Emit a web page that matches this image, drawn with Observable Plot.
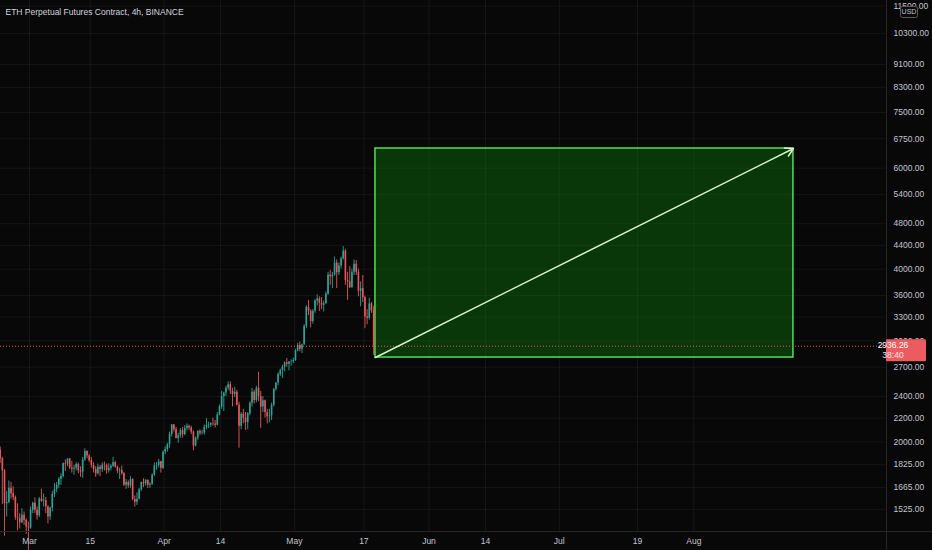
<!DOCTYPE html>
<html><head><meta charset="utf-8">
<script src="https://cdn.jsdelivr.net/npm/d3@7"></script>
<script src="https://cdn.jsdelivr.net/npm/@observablehq/plot@0.6"></script>
<style>html,body{margin:0;padding:0;background:#080808;overflow:hidden}#chart{width:932px;height:550px}</style>
</head><body><div id="chart"></div>
<script>
const title = "ETH Perpetual Futures Contract, 4h, BINANCE";
const candleStart = "2021-02-22T00:00:00Z";
const candleHours = 12;
const firstOpen = 1935;
const highs = [
1960,1880,1790,1640,1710,1700,1670,1610,1560,1500,1530,1510,1469,1450,
1540,1570,1598,1540,1600,1654,1622,1600,1547,1540,1640,1692,1700,1733,
1760,1838,1860,1868,1870,1850,1820,1840,1837,1810,1880,1945,1930,1900,
1878,1840,1810,1830,1820,1838,1845,1830,1832,1825,1880,1850,1815,1800,
1815,1770,1720,1710,1740,1725,1610,1630,1660,1702,1725,1720,1716,1700,
1760,1838,1840,1865,1850,1930,1960,1990,2080,2145,2145,2120,2070,2110,
2120,2135,2150,2140,2130,2090,2040,2093,2100,2095,2140,2196,2165,2160,
2200,2180,2250,2318,2450,2440,2500,2545,2545,2480,2490,2460,2345,2250,
2279,2250,2250,2350,2480,2460,2500,2645,2450,2400,2365,2280,2280,2337,
2480,2536,2640,2680,2720,2757,2797,2760,2780,2800,2900,2970,2985,2960,
3200,3455,3530,3400,3400,3540,3610,3580,3570,3520,3650,3950,3980,3950,
4200,4150,4100,4200,4380,4330,3950,4040,4000,4150,4140,4000,3800,3900,
3590,3400,3560,3500,3440];
const lows = [
1835,1555,1370,1480,1560,1590,1580,1460,1400,1410,1440,1430,1380,1290,
1409,1500,1500,1461,1477,1570,1540,1500,1439,1460,1510,1600,1631,1660,
1681,1730,1777,1810,1790,1765,1750,1780,1760,1735,1728,1850,1870,1840,
1800,1765,1735,1750,1740,1770,1780,1757,1765,1780,1806,1800,1760,1720,
1750,1672,1654,1660,1660,1580,1540,1550,1585,1640,1665,1675,1658,1660,
1680,1740,1785,1800,1765,1790,1900,1920,1950,2040,2080,2025,1990,2030,
2030,2050,2090,2095,2060,1930,1961,2010,2050,2055,2056,2100,2110,2120,
2130,2115,2134,2220,2280,2260,2400,2460,2420,2301,2390,2310,1950,2100,
2150,2094,2100,2220,2300,2330,2340,2350,2112,2250,2200,2150,2159,2180,
2300,2450,2505,2600,2580,2650,2700,2660,2710,2740,2764,2870,2870,2852,
2950,3150,3320,3160,3210,3350,3450,3375,3400,3370,3475,3600,3750,3700,
3890,3700,3900,4000,4150,3750,3530,3700,3700,3900,3900,3580,3440,3500,
3150,3200,3260,3350,2830];
const closes = [
1870,1781,1560,1568,1660,1625,1600,1475,1470,1446,1490,1459,1420,1416,
1520,1564,1520,1488,1590,1574,1580,1541,1480,1532,1620,1653,1680,1722,
1740,1834,1830,1868,1800,1793,1800,1826,1780,1772,1860,1924,1890,1854,
1820,1791,1760,1806,1790,1822,1820,1782,1800,1814,1840,1807,1780,1784,
1760,1681,1700,1677,1720,1587,1570,1589,1650,1700,1690,1714,1680,1688,
1750,1815,1820,1846,1800,1918,1940,1977,2060,2141,2100,2028,2050,2092,
2060,2110,2130,2115,2080,1967,2030,2086,2070,2072,2120,2134,2140,2152,
2150,2138,2230,2300,2400,2433,2480,2515,2450,2420,2440,2316,2130,2235,
2200,2161,2240,2335,2440,2361,2480,2398,2300,2360,2250,2213,2220,2317,
2470,2534,2620,2663,2700,2746,2730,2757,2760,2773,2880,2945,2900,2950,
3180,3431,3380,3241,3380,3522,3550,3490,3460,3483,3620,3905,3880,3903,
4100,3943,4050,4170,4300,3820,3800,3715,3950,4080,3950,3660,3700,3570,
3300,3285,3480,3385,2936];
const lastPrice = 2936.26;
const countdown = "38:40";
const currency = "USD";
const yTicks = [11500,10300,9100,8300,7500,6750,6000,5400,4800,4400,4000,3600,3300,3000,2700,2400,2200,2000,1825,1665,1525];
const xTickDates = ["2021-03-01","2021-03-15","2021-04-01","2021-04-14","2021-05-01","2021-05-17","2021-06-01","2021-06-14","2021-07-01","2021-07-19","2021-08-01"];
const xTickLabels = ["Mar","15","Apr","14","May","17","Jun","14","Jul","19","Aug"];
const zoneDates = ["2021-05-19T16:00:00Z","2021-08-23T22:00:00Z"];
const zonePrices = [2806, 6492];

// build candle table
const t0 = new Date(candleStart).getTime();
const candles = closes.map((c, i) => ({
  t: new Date(t0 + (i * candleHours + candleHours / 2) * 3600e3),
  open: i === 0 ? firstOpen : closes[i - 1],
  high: highs[i], low: lows[i], close: c
}));
const ups = candles.filter(d => d.close >= d.open);
const downs = candles.filter(d => d.close < d.open);
const UP = "#2fa396", DOWN = "#e35a5c";
const BG = "#080808";
const xTicks = xTickDates.map(d => new Date(d + "T00:00:00Z"));
const labelOf = new Map(xTicks.map((d, i) => [+d, xTickLabels[i]]));
const zone = [{x1: new Date(zoneDates[0]), x2: new Date(zoneDates[1]), y1: zonePrices[0], y2: zonePrices[1]}];

const chart = Plot.plot({
  width: 932, height: 550,
  marginLeft: 0, marginRight: 45, marginTop: 0, marginBottom: 19,
  style: {background: BG, color: "#c3c5cb", fontFamily: "'Liberation Sans', Arial, sans-serif", fontSize: "8.5px", overflow: "visible"},
  x: {type: "utc", domain: [new Date("2021-02-22T07:45:00Z"), new Date("2021-09-14T14:00:00Z")]},
  y: {type: "log", domain: [1396, 11758]},
  marks: [
    Plot.gridX(xTicks, {stroke: "#ffffff", strokeOpacity: 0.06}),
    Plot.gridY(yTicks, {stroke: "#ffffff", strokeOpacity: 0.05}),
    Plot.rect(zone, {x1: "x1", x2: "x2", y1: "y1", y2: "y2", fill: "#0b8a0b", fillOpacity: 0.36, stroke: "#4fd34f", strokeWidth: 1.6}),
    Plot.ruleX(ups, {x: "t", y1: "low", y2: "high", stroke: UP, strokeWidth: 0.9}),
    Plot.ruleX(downs, {x: "t", y1: "low", y2: "high", stroke: DOWN, strokeWidth: 0.9}),
    Plot.ruleX(ups, {x: "t", y1: "open", y2: "close", stroke: UP, strokeWidth: 1.6}),
    Plot.ruleX(downs, {x: "t", y1: "open", y2: "close", stroke: DOWN, strokeWidth: 1.6}),
    Plot.ruleY([lastPrice], {stroke: DOWN, strokeDasharray: "1,2", strokeWidth: 1}),
    Plot.arrow(zone, {x1: "x1", y1: "y1", x2: "x2", y2: "y2", stroke: "#d8f5d0", strokeWidth: 1.5, headLength: 9}),
    Plot.axisX(xTicks, {anchor: "bottom", tickSize: 0, tickPadding: 6, tickFormat: d => labelOf.get(+d), fill: "#c3c5cb"}),
    Plot.axisY(yTicks, {anchor: "right", tickSize: 0, tickPadding: 6, tickFormat: d => d.toFixed(2), fill: "#c3c5cb"}),
    Plot.text([title], {frameAnchor: "top-left", dx: 5, dy: 12, text: d => d, fill: "#d1d4dc", fontSize: 8.5, textAnchor: "start", lineAnchor: "middle"})
  ]
});
document.getElementById("chart").appendChild(chart);

// separators, price badge and currency badge
const svg = d3.select(chart);
const xr = chart.scale("x").range, yr = chart.scale("y").range;
const right = Math.max(...xr), bottom = Math.max(...yr);
svg.append("line").attr("x1", 0).attr("x2", 932).attr("y1", bottom + 0.5).attr("y2", bottom + 0.5).attr("stroke", "#262626");
svg.append("line").attr("x1", right - 0.5).attr("x2", right - 0.5).attr("y1", 0).attr("y2", 550).attr("stroke", "#262626");
const yp = chart.scale("y").apply(lastPrice);
const b = svg.append("g");
b.append("rect").attr("x", right - 1).attr("y", yp - 6.5).attr("width", 40).attr("height", 22).attr("fill", "#ec5b5f").attr("rx", 1);
b.append("text").attr("x", right + 6).attr("y", yp).attr("dy", "0.32em").attr("fill", "#ffffff").attr("font-size", 8.5).text(lastPrice.toFixed(2));
b.append("text").attr("x", right + 6).attr("y", yp + 10).attr("dy", "0.32em").attr("fill", "#ffe8e8").attr("font-size", 8.5).text(countdown);
const u = svg.append("g");
u.append("rect").attr("x", right + 13.5).attr("y", 6.5).attr("width", 17).attr("height", 11).attr("fill", BG).attr("stroke", "#5a5a5a").attr("rx", 2);
u.append("text").attr("x", right + 22).attr("y", 12).attr("dy", "0.32em").attr("text-anchor", "middle").attr("fill", "#c3c5cb").attr("font-size", 7).text(currency);
</script></body></html>
